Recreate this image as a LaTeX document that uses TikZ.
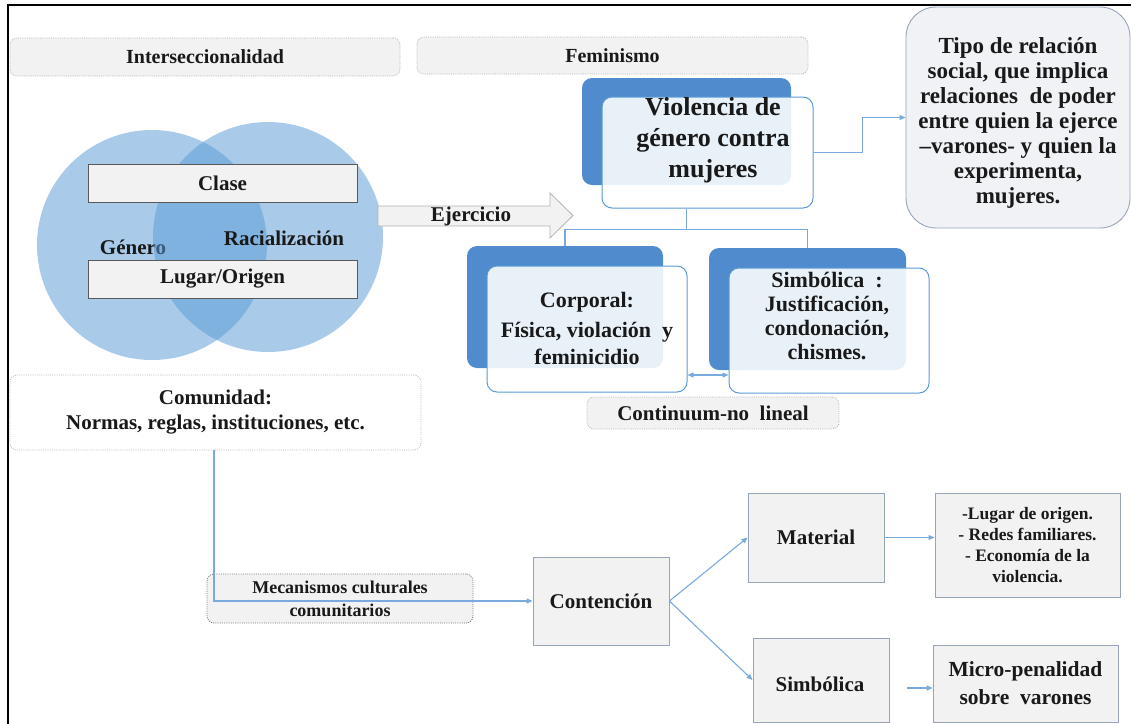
\documentclass[tikz,border=0pt]{standalone}
\usepackage{fontspec}
\setmainfont{Liberation Serif}
\usetikzlibrary{calc,arrows.meta}
\definecolor{txt}{RGB}{25,25,25}
\definecolor{boxfill}{RGB}{242,242,242}
\definecolor{boxline}{RGB}{150,165,185}
\definecolor{dotline}{RGB}{185,185,185}
\definecolor{dotdark}{RGB}{120,120,120}
\definecolor{backblue}{RGB}{80,140,205}
\definecolor{frontline}{RGB}{91,155,213}
\definecolor{lineblue}{RGB}{120,170,222}
\definecolor{vennblue}{RGB}{91,155,213}
\definecolor{tipofill}{RGB}{240,242,245}
\newcommand{\fz}[2]{\fontsize{#1}{#2}\selectfont\bfseries}
\tikzset{
  base/.style={text=txt, align=center, inner sep=0pt},
  graybox/.style={base, draw=boxline, fill=boxfill, line width=0.9pt},
  darkbox/.style={base, draw=black!65, fill=boxfill, line width=0.9pt},
  dotbox/.style={base, draw=dotline, fill=boxfill, rounded corners=7pt, dash pattern=on 1pt off 1.2pt, line width=0.8pt},
  backbox/.style={fill=backblue, rounded corners=10pt, inner sep=0pt},
  frontbox/.style={draw=frontline, fill=white, fill opacity=0.88, rounded corners=10pt, line width=1pt, inner sep=0pt},
  conn/.style={draw=lineblue, line width=1.1pt},
  arr/.style={conn, -{Triangle[length=6pt,width=5pt]}},
  darr/.style={conn, {Triangle[length=6pt,width=5pt]}-{Triangle[length=6pt,width=5pt]}},
}
\begin{document}
\begin{tikzpicture}[x=1pt,y=-1pt]
\useasboundingbox (0,0) rectangle (1131,723);
% frame
\draw[line width=2.5pt, line cap=rect] (1131,5) -- (8,5) -- (8,723);

% headers
\node[dotbox, minimum width=390, minimum height=38, font=\fz{20}{24}] (inter) at (205,57) {Interseccionalidad};
\node[dotbox, minimum width=391, minimum height=37, font=\fz{20}{24}] (fem) at (612.5,55.5) {Feminismo};

% Venn
\fill[vennblue, fill opacity=0.52] (152,245) circle[radius=115pt];
\node[base, font=\fz{21}{24}] (gen) at (133,247) {Género};
\fill[vennblue, fill opacity=0.52] (268,237) circle[radius=115pt];
\node[base, font=\fz{21}{24}] (rac) at (284,238) {Racialización};
\node[darkbox, minimum width=269, minimum height=38, font=\fz{21}{24}] (clase) at (222.5,183) {Clase};
\node[darkbox, minimum width=269, minimum height=38, font=\fz{21}{24}] (lugar) at (222.5,279) {Lugar/Origen};

% Ejercicio arrow
\draw[draw=black!30, fill=boxfill, line width=0.8pt] (378,206) -- (550,206) -- (550,193) -- (573,215.5) -- (550,238) -- (550,226) -- (378,226) -- cycle;
\node[base, font=\fz{21}{24}] (ejer) at (471,216) {Ejercicio};

% Violencia
\node[backbox, minimum width=209, minimum height=107] (vb) at (686.5,131.5) {};
\node[frontbox, minimum width=211, minimum height=111] (vf) at (707.5,152.5) {};
\node[base, font=\fz{26}{31}] (vt) at (713,140) {Violencia de\\género contra\\mujeres};

% Tipo
\node[base, draw=boxline, fill=tipofill, rounded corners=30pt, line width=0.9pt, minimum width=224, minimum height=221] (tipo) at (1018,117.5) {};
\node[base, font=\fz{23}{25}] (tipot) at (1018,123) {Tipo de relación\\social, que implica\\relaciones \ de poder\\entre quien la ejerce\\–varones- y quien la\\experimenta,\\mujeres.};
\draw[arr] (vf.east) -- ++(49,0) |- (tipo.west);

% Corporal
\node[backbox, minimum width=196, minimum height=122] (cb) at (565,307) {};
\node[frontbox, minimum width=200, minimum height=126] (cf) at (587,329) {};
\node[base, font=\fz{22}{27}] (ct) at (587,328) {Corporal:\\[3pt]Física, violación \ y\\feminicidio};

% Simbolica
\node[backbox, minimum width=197, minimum height=122] (sb) at (807.5,309) {};
\node[frontbox, minimum width=200, minimum height=125] (sf) at (829,330.5) {};
\node[base, font=\fz{22}{24}] (st) at (827,316) {Simbólica \ :\\Justificación,\\condonación,\\chismes.};

% tree connectors
\draw[conn] (vb.center |- vf.south) -- ++(0,21) -| (cb.north);
\draw[conn] (vb.center |- vf.south) -- ++(0,21) -| (sb.north);

% continuum
\draw[darr] (cf.east |- 0,375) -- (sf.west |- 0,375);
\node[dotbox, minimum width=252, minimum height=32, font=\fz{21}{24}] (cont) at (713,413) {Continuum-no \ lineal};

% Comunidad
\node[dotbox, fill=white, minimum width=411, minimum height=75, font=\fz{21}{25}] (com) at (215.5,412.5) {Comunidad:\\Normas, reglas, instituciones, etc.};
\node[dotbox, draw=dotdark, minimum width=266, minimum height=49, font=\fz{18}{23}] (mec) at (340,598.5) {Mecanismos culturales\\comunitarios};

% Contencion etc.
\node[graybox, minimum width=136, minimum height=88, font=\fz{21}{24}] (conten) at (601,601) {Contención};
\node[graybox, minimum width=136, minimum height=89, font=\fz{21}{24}] (mat) at (816,537.5) {Material};
\node[graybox, minimum width=136, minimum height=84] (sim) at (821,680) {};
\node[base, font=\fz{21}{24}] (simt) at (820,684) {Simbólica};
\node[graybox, minimum width=185, minimum height=104, font=\fz{17.5}{21.3}] (bul) at (1027.5,545) {-Lugar de origen.\\- Redes familiares.\\- Economía de la\\violencia.};
\node[graybox, minimum width=185, minimum height=77, font=\fz{21.5}{28}] (micro) at (1025.5,683.5) {Micro-penalidad\\sobre \ varones};

\coordinate (s1) at ($(sim.east)+(0,8)$);
\draw[arr] (com.south -| 214,0) |- (conten.west);
\draw[arr] (conten.east) -- (mat.west);
\draw[arr] (conten.east) -- (sim.west);
\draw[arr] (mat.east) -- (mat.east -| bul.west);
\draw[arr, shorten <=18pt] (s1) -- (s1 -| micro.west);
\end{tikzpicture}
\end{document}
